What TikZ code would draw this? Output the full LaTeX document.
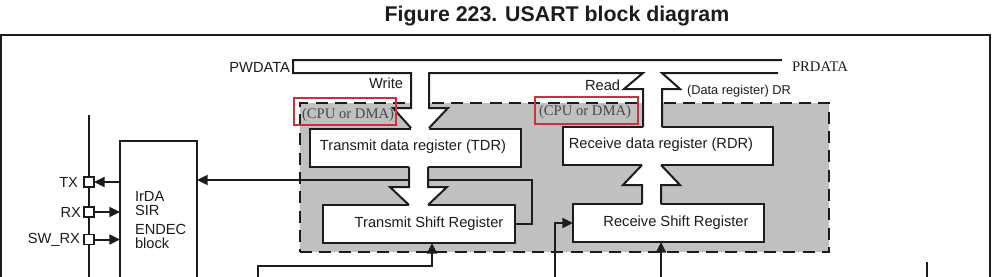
\documentclass[tikz,border=0pt]{standalone}
\usepackage{fontspec}
\setmainfont{Liberation Sans}
\newfontfamily\serifrm{Liberation Serif}
\usetikzlibrary{arrows.meta,fit}
\definecolor{boxgray}{RGB}{192,192,192}
\definecolor{redbox}{RGB}{200,50,60}
\definecolor{ink}{RGB}{28,28,28}
\begin{document}
\begin{tikzpicture}[x=0.75pt,y=-0.75pt,
  every node/.style={inner sep=0pt, outer sep=0pt, font=\fontsize{11}{13}\selectfont, text=ink},
  box/.style={draw=ink, line width=1.5pt, fill=white},
  wire/.style={draw=ink, line width=1.5pt},
  arr/.style={wire, -{Triangle[length=8pt,width=7.5pt]}},
  bus/.style={draw=ink, line width=1.5pt, line join=miter},
  pinbox/.style={draw=ink, line width=1.2pt, fill=white, minimum size=7.5pt},
  cpu/.style={font=\serifrm\fontsize{11}{13}\selectfont, text=black!72},
  redframe/.style={draw=redbox, line width=1.5pt},
  usartarea/.style={draw=ink, fill=boxgray, line width=1.8pt, dash pattern=on 9pt off 5.5pt},
]
\path[use as bounding box] (0,0) rectangle (992,276);
\clip (0,0) rectangle (992,276);

% title and frame
\node[font=\bfseries\fontsize{16}{19}\selectfont] (title) at (557,16) {Figure 223. USART block diagram};
\coordinate (fl) at (1,280);
\coordinate (ftl) at (1,35);
\coordinate (ftr) at (990,35);
\coordinate (fr) at (990,280);
\draw[wire] (fl) -- (ftl) -- (ftr) -- (fr);

% USART gray area
\node[usartarea, fit={(300,103) (829,252)}] (usart) {};

% boxes
\node[box, fit={(310,129) (521,167)}] (tdr) {};
\node[box, fit={(563,127) (773,165)}] (rdr) {};
\node[box, fit={(323,205) (515,243)}] (tsr) {};
\node[box, fit={(573,204) (764,242)}] (rsr) {};
\node[box, fit={(120,141) (197,300)}] (irda) {};

% TSR output to IrDA (passes under hollow arrow)
\coordinate (tl) at (532,180);
\draw[arr] (tsr.east) -| (tl) -- (tl -| irda.east);

% hollow arrow: write bus -> TDR
\fill[white] (411,74) -- (411,108) -- (393,108) -- (411,128) -- (411,131) -- (429,131) -- (429,128) -- (448,108) -- (429,108) -- (429,74) -- cycle;
% hollow arrow: RDR -> read bus
\fill[white] (643,73) -- (624,89) -- (643,89) -- (643,130) -- (662,130) -- (662,89) -- (680,89) -- (662,73) -- cycle;
% hollow arrow: TDR -> TSR
\fill[white] (409,165) -- (409,187) -- (390,187) -- (409,205) -- (409,207) -- (428,207) -- (428,205) -- (447,187) -- (428,187) -- (428,165) -- cycle;
% hollow arrow: RSR -> RDR
\fill[white] (642,206) -- (642,185) -- (623,185) -- (642,165) -- (642,163) -- (661,163) -- (661,165) -- (680,185) -- (661,185) -- (661,206) -- cycle;

% bus outlines
\coordinate (pwl) at (293,60);
\coordinate (prr) at (782,60);
\coordinate (bus2r) at (778,73);
\draw[bus] (prr) -- (pwl) -- (293,73) -- (411,73) -- (411,108) -- (393,108) -- (411,128);
\draw[bus] (429,128) -- (448,108) -- (429,108) -- (429,73) -- (643,73) -- (624,89) -- (643,89) -- (643,127);
\draw[bus] (662,127) -- (662,89) -- (680,89) -- (662,73) -- (bus2r);
\draw[bus] (409,167) -- (409,187) -- (390,187) -- (409,205);
\draw[bus] (428,167) -- (428,187) -- (447,187) -- (428,205);
\draw[bus] (642,204) -- (642,185) -- (623,185) -- (642,165);
\draw[bus] (661,204) -- (661,185) -- (680,185) -- (661,165);

% pins
\coordinate (pt) at (89,115);
\coordinate (pb) at (89,280);
\draw[wire] (pt) -- (pb);
\node[pinbox] (txp) at (89,182) {};
\node[pinbox] (rxp) at (89,212) {};
\node[pinbox] (swp) at (89,239.5) {};
\draw[arr] (irda.west |- txp) -- (txp.east);
\draw[arr] (rxp.east) -- (rxp -| irda.west);
\draw[arr] (swp.east) -- (swp -| irda.west);
\node[anchor=east] (txl) at (78,182) {TX};
\node[anchor=east] (rxl) at (81,212) {RX};
\node[anchor=east] (swl) at (80,239.5) {SW\_RX};

% bottom connectors
\coordinate (b1) at (258,280);
\coordinate (b1k) at (432,266);
\draw[arr] (b1) |- (b1k) -- (b1k |- tsr.south);
\coordinate (b2) at (555,280);
\draw[arr] (b2) |- (rsr.west);
\coordinate (b3) at (661,280);
\draw[arr] (b3) -- (b3 |- rsr.south);
\coordinate (b4t) at (927,262);
\coordinate (b4) at (927,280);
\draw[wire] (b4t) -- (b4);

% texts
\node (tdrt) at (413,147) {Transmit data register (TDR)};
\node (rdrt) at (661,145) {Receive data register (RDR)};
\node (tsrt) at (429,224) {Transmit Shift Register};
\node (rsrt) at (676,223) {Receive Shift Register};
\node[anchor=base west] (ir1) at (135,201) {IrDA};
\node[anchor=base west] (ir2) at (135,215) {SIR};
\node[anchor=base west] (ir3) at (135,234) {ENDEC};
\node[anchor=base west] (ir4) at (135,248) {block};
\node[anchor=east] (pwd) at (290,67) {PWDATA};
\node[cpu, text=ink, anchor=west] (prd) at (792,67) {PRDATA};
\node[anchor=east] (wr) at (403,83) {Write};
\node[anchor=west] (rd) at (585,85) {Read};
\node[anchor=west, font=\fontsize{9.6}{11}\selectfont] (dr) at (687,91) {(Data register) DR};

% CPU or DMA annotations
\node[cpu, anchor=west] (cpu1) at (302,115) {(CPU or DMA)};
\node[cpu, anchor=west] (cpu2) at (539,112) {(CPU or DMA)};
\node[redframe, fit={(294,98) (396,125)}] (red1) {};
\node[redframe, fit={(535,97) (638,124)}] (red2) {};
\end{tikzpicture}
\end{document}
